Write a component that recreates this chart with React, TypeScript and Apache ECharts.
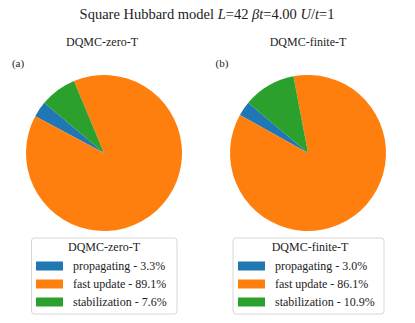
import React, { useEffect, useRef } from "react";
import * as echarts from "echarts";

const categories = ["propagating", "fast update", "stabilization"];
const zeroTValues = [3.3, 89.1, 7.6];
const finiteTValues = [3.0, 86.1, 10.9];
const panelTitles = ["DQMC-zero-T", "DQMC-finite-T"];
const panelLabels = ["(a)", "(b)"];
const colors = ["#1f77b4", "#ff7f0e", "#2ca02c"];

const FAM = "Liberation Serif";

function names(vals: number[]) {
  return categories.map((c, i) => `${c} - ${vals[i].toFixed(1)}%`);
}

export default function App() {
  const ref = useRef<HTMLDivElement>(null);
  useEffect(() => {
    document.body.style.margin = "0";
    const chart = echarts.init(ref.current!, undefined, { renderer: "svg" });
    const sets = [zeroTValues, finiteTValues];
    const centers = [104, 308];
    const legendLeft = [36, 238];
    const boxLeft = [31.5, 233];
    const boxWidth = [145.5, 151];

    const series = sets.map((vals, k) => ({
      type: "pie",
      center: [centers[k], 153],
      radius: 78,
      startAngle: 140,
      clockwise: false,
      label: { show: false },
      labelLine: { show: false },
      emphasis: { disabled: true },
      itemStyle: { borderWidth: 0 },
      data: vals.map((v, i) => ({
        name: names(vals)[i],
        value: v,
        itemStyle: { color: colors[i] },
      })),
    }));

    const legends = sets.map((vals, k) => ({
      orient: "vertical",
      left: legendLeft[k],
      top: 259,
      padding: 0,
      itemWidth: 27,
      itemHeight: 9,
      itemGap: 4,
      icon: "rect",
      selectedMode: false,
      data: names(vals),
      textStyle: {
        fontFamily: FAM,
        fontSize: 12,
        color: "#222",
        lineHeight: 14,
        padding: [0, 0, 0, 5],
      },
    }));

    const texts: any[] = [
      {
        type: "text",
        x: 207,
        y: 14,
        style: {
          text: "{n|Square Hubbard model }{i|L}{n|=42 }{i|βt}{n|=4.00 }{i|U}{n|/}{i|t}{n|=1}",
          align: "center",
          verticalAlign: "middle",
          rich: {
            n: { fontFamily: FAM, fontSize: 14.5, fill: "#222" },
            i: { fontFamily: FAM, fontSize: 14.5, fontStyle: "italic", fill: "#222" },
          },
        },
      },
    ];
    [0, 1].forEach((k) => {
      texts.push({
        type: "text",
        x: k === 0 ? 102 : 308,
        y: 42,
        style: {
          text: panelTitles[k],
          align: "center",
          verticalAlign: "middle",
          fontFamily: FAM,
          fontSize: 12,
          fill: "#222",
        },
      });
      texts.push({
        type: "text",
        x: k === 0 ? 18 : 222,
        y: 63,
        style: {
          text: panelLabels[k],
          align: "center",
          verticalAlign: "middle",
          fontFamily: FAM,
          fontSize: 11,
          fill: "#222",
        },
      });
      texts.push({
        type: "rect",
        shape: { x: boxLeft[k], y: 238, width: boxWidth[k], height: 76, r: 3 },
        style: { fill: "#fff", stroke: "#d6d6d6", lineWidth: 1 },
        z: -1,
      });
      texts.push({
        type: "text",
        x: k === 0 ? 104 : 310,
        y: 247,
        style: {
          text: panelTitles[k],
          align: "center",
          verticalAlign: "middle",
          fontFamily: FAM,
          fontSize: 12,
          fill: "#222",
        },
      });
    });

    chart.setOption({
      animation: false,
      backgroundColor: "#fff",
      legend: legends,
      graphic: texts,
      series,
    });
    return () => chart.dispose();
  }, []);
  return (
    <div
      ref={ref}
      style={{ position: "absolute", left: 0, top: 0, width: 415, height: 323 }}
    />
  );
}
